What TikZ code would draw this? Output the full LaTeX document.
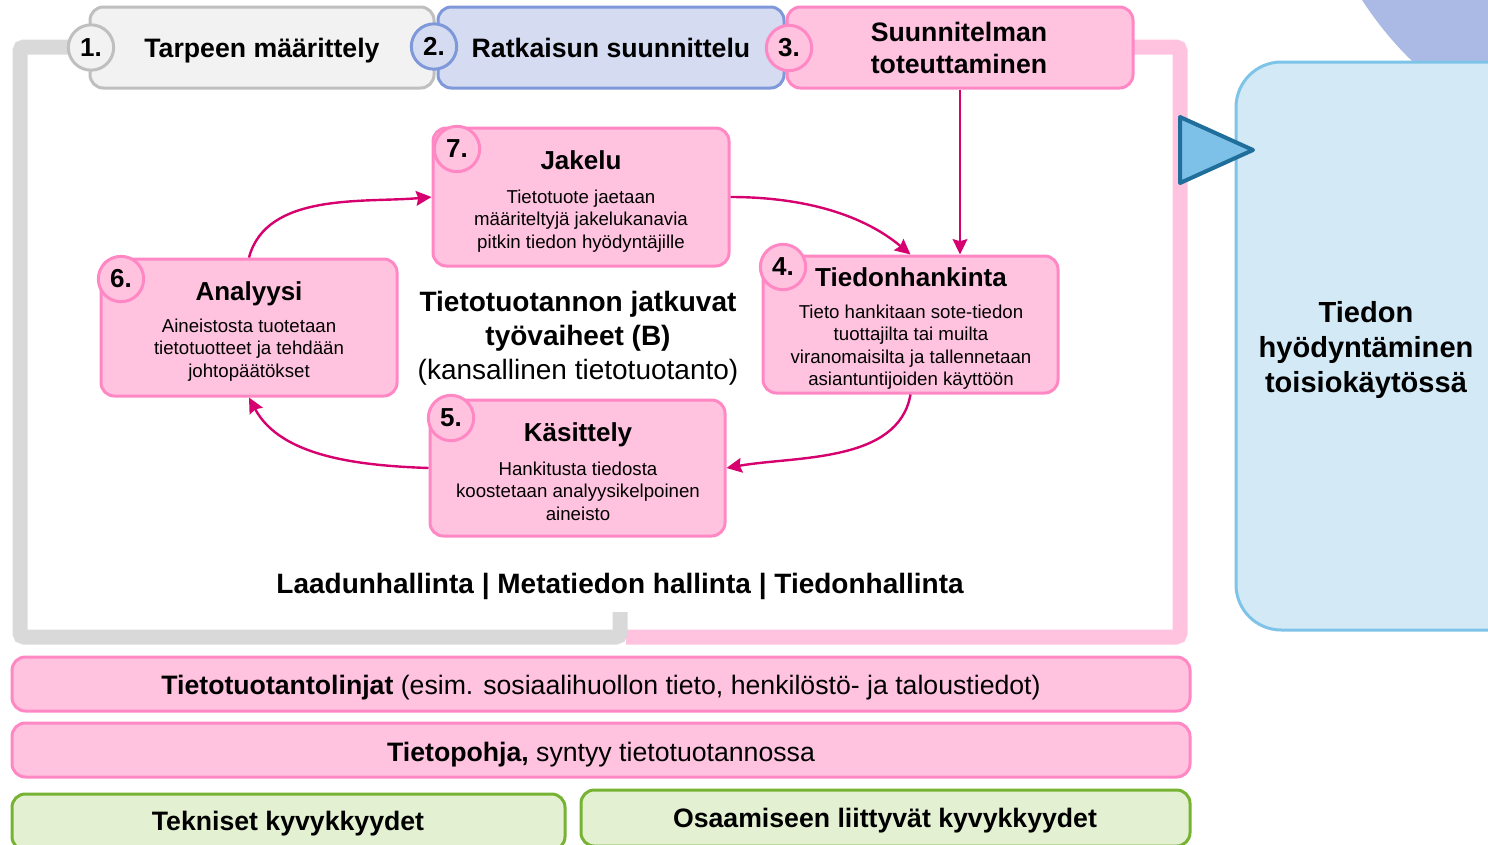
\documentclass[tikz,border=0pt]{standalone}
\usepackage{fontspec}
\setmainfont{Liberation Sans}
\usetikzlibrary{arrows.meta}
\definecolor{pinkF}{HTML}{FFC3E0}
\definecolor{pinkD}{HTML}{FF88C4}
\definecolor{grayF}{HTML}{F2F2F2}
\definecolor{grayD}{HTML}{BFBFBF}
\definecolor{lavF}{HTML}{D5DCF2}
\definecolor{lavD}{HTML}{7F98DA}
\definecolor{frameG}{HTML}{D9D9D9}
\definecolor{mag}{HTML}{D6006E}
\definecolor{greenF}{HTML}{E3F0D2}
\definecolor{greenD}{HTML}{77B332}
\definecolor{blueF}{HTML}{D3EAF6}
\definecolor{blueD}{HTML}{7EC3E8}
\definecolor{playF}{HTML}{7DC1E8}
\definecolor{playD}{HTML}{1F6E9B}
\definecolor{purp}{HTML}{ABBAE5}
\begin{document}
\begin{tikzpicture}[x=0.75pt,y=-0.75pt,
  box/.style={draw, line width=2.25pt, rounded corners=10pt, inner sep=0pt},
  pbox/.style={box, draw=pinkD, fill=pinkF},
  gbox/.style={box, draw=greenD, fill=greenF},
  num/.style={circle, draw, line width=2.25pt, minimum size=34pt, inner sep=0pt, font=\bfseries\fontsize{19.5}{20}\selectfont},
  pnum/.style={num, draw=pinkD, fill=pinkF},
  ttl/.style={font=\bfseries\fontsize{19.5}{23}\selectfont, anchor=mid, inner sep=0pt, yshift=-4.5pt},
  tttl/.style={ttl, font=\bfseries\fontsize{20}{24}\selectfont},
  body/.style={font=\fontsize{14}{16.9}\selectfont, align=center, inner sep=0pt, yshift=-1.5pt},
  big/.style={font=\bfseries\fontsize{21}{25.5}\selectfont, align=center, inner sep=0pt},
  bar/.style={font=\fontsize{20}{24}\selectfont, anchor=mid, inner sep=0pt, yshift=-4.5pt},
  frame/.style={line width=11.25pt, rounded corners=3pt},
  arr/.style={draw=mag, line width=1.8pt, -{Stealth[length=11.5pt,width=11pt,inset=1.5pt]}}
]
\useasboundingbox (0,0) rectangle (1488,844);
\clip (0,0) rectangle (1488,844);

% purple corner shape
\fill[purp] (1362,0) .. controls (1385,35) and (1410,62) .. (1440,85) -- (1488,85) -- (1488,0) -- cycle;

% frames
\draw[frame, draw=pinkF] (1133,47) -- (1180,47) -- (1180,637) -- (626,637);
\draw[frame, draw=frameG] (70,47) -- (20,47) -- (20,637) -- (620,637) -- (620,612);

% top boxes
\node[box, draw=grayD, fill=grayF, minimum width=258pt, minimum height=60.75pt] (b1) at (262,47.5) {};
\node[box, draw=lavD, fill=lavF, minimum width=259.5pt, minimum height=60.75pt] (b2) at (611,47.5) {};
\node[pbox, minimum width=259.5pt, minimum height=60.75pt] (b3) at (960,47.5) {};
\node[tttl] (t1) at (262,48) {Tarpeen määrittely};
\node[tttl] (t2) at (611,48) {Ratkaisun suunnittelu};
\node[tttl, align=center, anchor=center, yshift=4.5pt] (t3) at (959,48) {Suunnitelman\\toteuttaminen};
\node[num, draw=grayD, fill=grayF] (n1) at (91,47.5) {1.};
\node[num, draw=lavD, fill=lavF] (n2) at (434,46.5) {2.};
\node[pnum] (n3) at (789,48) {3.};

% blue target box and play triangle
\node[box, draw=blueD, fill=blueF, rounded corners=34pt, minimum width=228pt, minimum height=426pt] (tb) at (1388,346) {};
\node[big, font=\bfseries\fontsize{21.8}{26.25}\selectfont] (tt) at (1366,350) {Tiedon\\hyödyntäminen\\toisiokäytössä};
\draw[line width=3pt, draw=playD, fill=playF, line join=round] (1180,117) -- (1253,150) -- (1180,183) -- cycle;

% cycle boxes
\node[pbox, minimum width=222pt, minimum height=103.5pt] (b7) at (581,197) {};
\node[pbox, minimum width=222pt, minimum height=102.75pt] (b6) at (249,327.5) {};
\node[pbox, minimum width=221.25pt, minimum height=102.75pt] (b4) at (910.5,324.5) {};
\node[pbox, minimum width=221.25pt, minimum height=102pt] (b5) at (577.5,468) {};

\node[ttl] (t7) at (581,160) {Jakelu};
\node[body] (d7) at (581,219) {Tietotuote jaetaan\\määriteltyjä jakelukanavia\\pitkin tiedon hyödyntäjille};
\node[ttl] (t6) at (249,291) {Analyysi};
\node[body] (d6) at (249,348) {Aineistosta tuotetaan\\tietotuotteet ja tehdään\\johtopäätökset};
\node[ttl] (t4) at (911,277) {Tiedonhankinta};
\node[body] (d4) at (911,345) {Tieto hankitaan sote-tiedon\\tuottajilta tai muilta\\viranomaisilta ja tallennetaan\\asiantuntijoiden käyttöön};
\node[ttl] (t5) at (578,432) {Käsittely};
\node[body] (d5) at (578,489) {Hankitusta tiedosta\\koostetaan analyysikelpoinen\\aineisto};

\node[pnum] (n7) at (457,149) {7.};
\node[pnum] (n6) at (121,279) {6.};
\node[pnum] (n4) at (783,267) {4.};
\node[pnum] (n5) at (451,418) {5.};

% centre text
\node[big] (ct) at (578,338) {Tietotuotannon jatkuvat\\työvaiheet (B)\\\mdseries(kansallinen tietotuotanto)};
\node[big, anchor=mid, yshift=-4.5pt] (qm) at (620,584) {Laadunhallinta | Metatiedon hallinta | Tiedonhallinta};

% arrows
\draw[arr] (b3.south) -- (b3.south |- b4.north);
\draw[arr] (b7.east) to[out=0, in=140, looseness=0.9] (b4.north);
\draw[arr] (b4.south) to[out=-100, in=10, looseness=0.9] (b5.east);
\draw[arr] (b5.west) to[out=178, in=-62, looseness=0.9] (b6.south);
\draw[arr] (b6.north) to[out=75, in=185, looseness=0.9] (b7.west);

% bottom bars
\node[pbox, minimum width=883.5pt, minimum height=40.5pt] (l1) at (601,684) {};
\node[bar] (l1t) at (601,685) {\textbf{Tietotuotantolinjat} (esim. sosiaalihuollon tieto, henkilöstö- ja taloustiedot)};
\node[pbox, minimum width=883.5pt, minimum height=40.5pt] (l2) at (601,750) {};
\node[bar] (l2t) at (601,752) {\textbf{Tietopohja,} syntyy tietotuotannossa};
\node[gbox, minimum width=414.75pt, minimum height=42pt] (g1) at (288.5,822) {};
\node[tttl] (g1t) at (288,821) {Tekniset kyvykkyydet};
\node[gbox, minimum width=456.75pt, minimum height=42pt] (g2) at (885.5,818) {};
\node[tttl] (g2t) at (885,818) {Osaamiseen liittyvät kyvykkyydet};
\end{tikzpicture}
\end{document}
